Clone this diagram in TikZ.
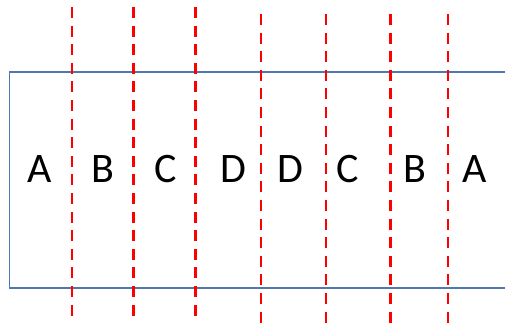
\documentclass[tikz,border=0pt]{standalone}
\usepackage{fontspec}
\setmainfont{Carlito}
\begin{document}
\begin{tikzpicture}[x=1pt, y=-1pt,
    cut/.style={red, line width=2.4pt, dash pattern=on 11pt off 7.6pt},
    band/.style={draw=none, font=\fontsize{42}{42}\selectfont, inner sep=0pt}]
    \useasboundingbox (0, 0) rectangle (505, 324);
    % 纸条
    \draw[color={rgb,255:red,79;green,120;blue,178}, line width=1.3pt]
        (505, 72) -- (9.5, 72) -- (9.5, 288) -- (505, 288);
    % 字母
    \node[band] (a1) at (40, 169) {A};
    \node[band] (b1) at (103, 169) {B};
    \node[band] (c1) at (166, 169) {C};
    \node[band] (d1) at (233, 169) {D};
    \node[band] (d2) at (290, 169) {D};
    \node[band] (c2) at (348, 169) {C};
    \node[band] (b2) at (415, 169) {B};
    \node[band] (a2) at (475, 169) {A};
    % 折线
    \foreach \x in {72, 133.5, 195.5} {
        \draw[cut] (\x, 7) -- (\x, 319);
    }
    \foreach \x in {261, 326, 390.5, 448} {
        \draw[cut] (\x, 14) -- (\x, 326);
    }
\end{tikzpicture}
\end{document}
